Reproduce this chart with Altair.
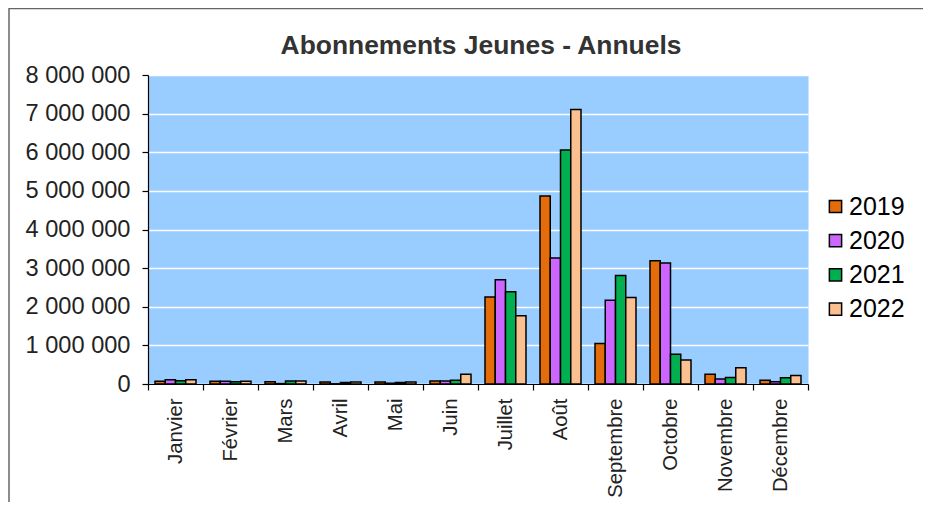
import altair as alt
import pandas as pd

months = ["Janvier", "Février", "Mars", "Avril", "Mai", "Juin", "Juillet",
          "Août", "Septembre", "Octobre", "Novembre", "Décembre"]
years = ["2019", "2020", "2021", "2022"]
v2019 = [70000, 70000, 60000, 50000, 55000, 75000, 2250000, 4870000, 1050000, 3190000, 250000, 95000]
v2020 = [110000, 70000, 10000, 5000, 20000, 75000, 2700000, 3260000, 2170000, 3130000, 130000, 60000]
v2021 = [85000, 60000, 75000, 40000, 40000, 100000, 2390000, 6060000, 2810000, 770000, 170000, 160000]
v2022 = [110000, 70000, 80000, 50000, 50000, 250000, 1770000, 7110000, 2240000, 620000, 420000, 220000]
colors = ["#E46C0A", "#CC66FF", "#00B050", "#FAC090"]
y_ticks = [0, 1000000, 2000000, 3000000, 4000000, 5000000, 6000000, 7000000, 8000000]
title_text = "Abonnements Jeunes - Annuels"

rows = []
for yr, vals in zip(years, [v2019, v2020, v2021, v2022]):
    for m, v in zip(months, vals):
        rows.append({"Mois": m, "Année": yr, "Valeur": v})
df = pd.DataFrame(rows)

FONT = "Liberation Sans"

bars = alt.Chart(df).mark_bar(stroke="black", strokeWidth=1.5, opacity=1).encode(
    x=alt.X("Mois:N", sort=months, title=None,
            scale=alt.Scale(paddingInner=0, paddingOuter=0),
            axis=alt.Axis(labelAngle=-90, labelAlign="right", labelBaseline="middle",
                          labelFontSize=20.3, labelFont=FONT, labelColor="#222",
                          tickBand="extent", tickSize=6, tickColor="black",
                          domainColor="black", domainWidth=1.2, tickWidth=1.2,
                          labelPadding=8, grid=False)),
    xOffset=alt.XOffset("Année:N", sort=years,
                        scale=alt.Scale(paddingInner=0, paddingOuter=0.683)),
    y=alt.Y("Valeur:Q", title=None,
            scale=alt.Scale(domain=[0, 8000000], nice=False),
            axis=alt.Axis(values=y_ticks, labelFontSize=23.6, labelFont=FONT, labelColor="#222",
                          labelExpr="replace(format(datum.value, ','), regexp(',', 'g'), ' ')",
                          tickSize=6, tickColor="black", domainColor="black",
                          domainWidth=1.2, tickWidth=1.2, labelPadding=12,
                          gridColor="white", gridWidth=1.5, gridOpacity=1)),
    fill=alt.Fill("Année:N", sort=years, scale=alt.Scale(domain=years, range=colors),
                  legend=alt.Legend(title=None, orient="none", legendX=675, legendY=119,
                                    labelFontSize=25, labelFont=FONT, labelColor="black",
                                    symbolType="square", symbolSize=150,
                                    symbolStrokeColor="black", symbolStrokeWidth=1.5,
                                    symbolOpacity=1, labelOffset=1, rowPadding=8.2,
                                    padding=0)),
)

one = pd.DataFrame({"t": [title_text]})
title = alt.Chart(one).mark_text(font=FONT, fontSize=26.4, fontWeight="bold", color="#333",
                                 align="center", baseline="alphabetic").encode(
    text="t:N", x=alt.value(333), y=alt.value(-21))
left_line = alt.Chart(one).mark_rule(color="#666", strokeWidth=1.5).encode(
    x=alt.value(-139), y=alt.value(-67), y2=alt.value(430))
top_line = alt.Chart(one).mark_rule(color="#666", strokeWidth=1.5).encode(
    x=alt.value(-139), x2=alt.value(775), y=alt.value(-66.5))

chart = alt.layer(bars, title, left_line, top_line).properties(
    width=660, height=309,
    autosize=alt.AutoSizeParams(type="none"),
    padding={"left": 140, "top": 67, "right": 115, "bottom": 118},
    background="white",
).configure_view(fill="#99CCFF", strokeOpacity=0)

chart.save("out.html", embed_options={"renderer": "svg", "actions": False})
